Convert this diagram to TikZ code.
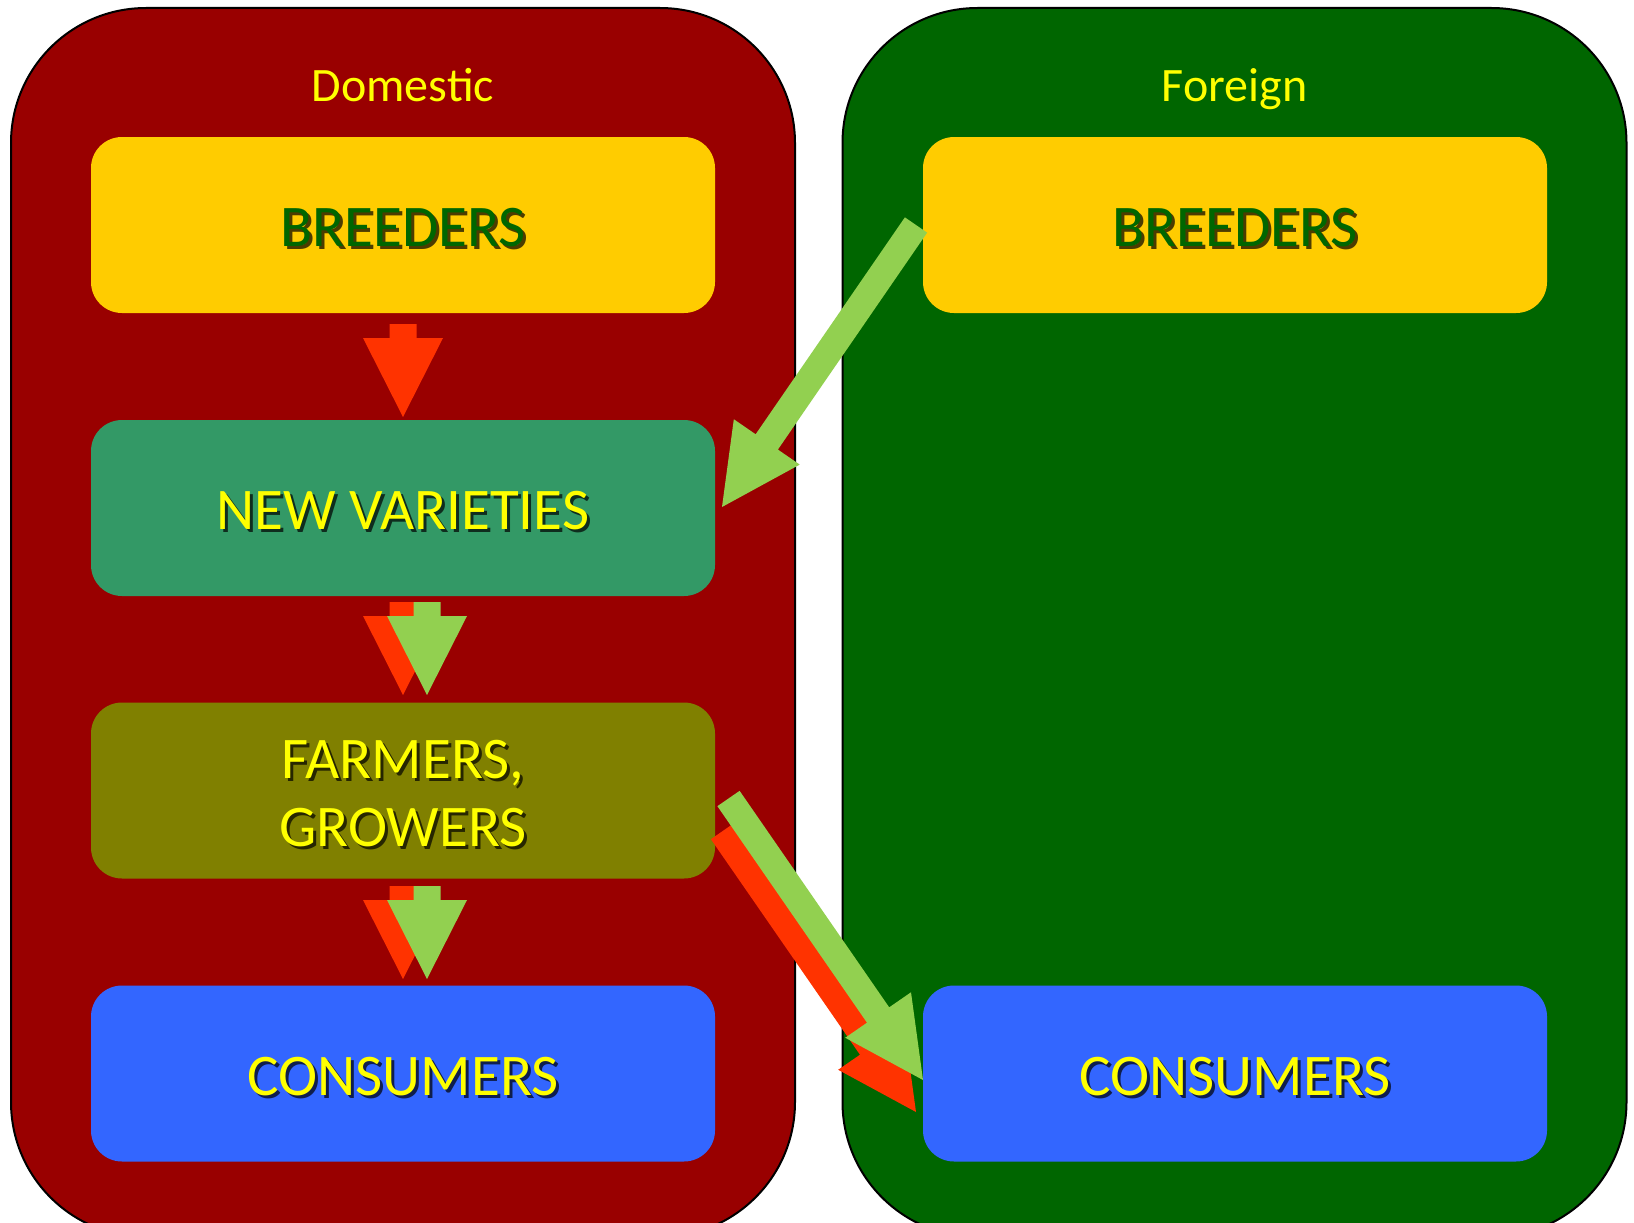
\documentclass[tikz,border=0pt]{standalone}
\usepackage{fontspec}
\setmainfont{Carlito}
\usetikzlibrary{calc}
\definecolor{panelred}{HTML}{990000}
\definecolor{panelgreen}{HTML}{006600}
\definecolor{boxyellow}{HTML}{FFCC00}
\definecolor{boxteal}{HTML}{339966}
\definecolor{boxolive}{HTML}{808000}
\definecolor{boxblue}{HTML}{3366FF}
\definecolor{arrred}{HTML}{FF3300}
\definecolor{arrgreen}{HTML}{92D050}
\definecolor{txtyellow}{HTML}{FFFF00}
\definecolor{txtgreen}{HTML}{006600}
\newcommand\blockarrow[3]{%
  \coordinate (hb) at ($(#3)!79pt!(#2)$);
  \fill[#1] ($(#2)!13.5pt!90:(#3)$) -- ($(hb)!13.5pt!90:(#3)$) -- ($(hb)!40pt!90:(#3)$)
    -- (#3) -- ($(hb)!40pt!-90:(#3)$) -- ($(hb)!13.5pt!-90:(#3)$) -- ($(#2)!13.5pt!-90:(#3)$) -- cycle;
}
\begin{document}
\begin{tikzpicture}[x=1pt,y=-1pt,
  panel/.style={draw=black, line width=2pt, rounded corners=135pt, minimum width=784pt, minimum height=1229pt, inner sep=0pt},
  box/.style={rounded corners=31pt, minimum width=624pt, minimum height=176pt, inner sep=0pt},
  boxtext/.style={font=\fontsize{59}{68}\selectfont, align=center, inner sep=0pt},
  shadowtext/.style={boxtext, text=black, text opacity=0.7},
  title/.style={font=\fontsize{48}{50}\selectfont, text=txtyellow, inner sep=0pt}]
\useasboundingbox (0,0) rectangle (1634,1223);
% panels
\node[panel, fill=panelred] (dom) at (403,622.5) {};
\node[panel, fill=panelgreen] (for) at (1234.5,622.5) {};
\node[title, anchor=base] (domt) at (403,102) {Domestic};
\node[title, anchor=base] (fort) at (1234.5,102) {Foreign};
% boxes
\node[box, fill=boxyellow] (dbreed) at (403,225) {};
\node[box, fill=boxteal] (dnew) at (403,508) {};
\node[box, fill=boxolive] (dfarm) at (403,790.5) {};
\node[box, fill=boxblue] (dcons) at (403,1073.5) {};
\node[box, fill=boxyellow] (fbreed) at (1235,225) {};
\node[box, fill=boxblue] (fcons) at (1235,1073.5) {};
% texts
\node[shadowtext] (s1) at ([shift={(3,6)}]dbreed.center) {BREEDERS};
\node[boxtext, text=txtgreen] (t1) at ([shift={(0,3)}]dbreed.center) {BREEDERS};
\node[shadowtext] (s2) at ([shift={(3,6)}]dnew.center) {NEW VARIETIES};
\node[boxtext, text=txtyellow] (t2) at ([shift={(0,3)}]dnew.center) {NEW VARIETIES};
\node[shadowtext] (s3) at ([shift={(3,6)}]dfarm.center) {FARMERS,\\GROWERS};
\node[boxtext, text=txtyellow] (t3) at ([shift={(0,3)}]dfarm.center) {FARMERS,\\GROWERS};
\node[shadowtext] (s4) at ([shift={(3,6)}]dcons.center) {CONSUMERS};
\node[boxtext, text=txtyellow] (t4) at ([shift={(0,3)}]dcons.center) {CONSUMERS};
\node[shadowtext] (s5) at ([shift={(3,6)}]fbreed.center) {BREEDERS};
\node[boxtext, text=txtgreen] (t5) at ([shift={(0,3)}]fbreed.center) {BREEDERS};
\node[shadowtext] (s6) at ([shift={(3,6)}]fcons.center) {CONSUMERS};
\node[boxtext, text=txtyellow] (t6) at ([shift={(0,3)}]fcons.center) {CONSUMERS};
% arrow end points
\coordinate (a1s) at (403,324);   \coordinate (a1e) at (403,417);
\coordinate (a2rs) at (403,602);  \coordinate (a2re) at (403,695);
\coordinate (a2gs) at (427,602);  \coordinate (a2ge) at (427,695);
\coordinate (a3rs) at (403,886);  \coordinate (a3re) at (403,979);
\coordinate (a3gs) at (427,886);  \coordinate (a3ge) at (427,979);
\coordinate (dgs) at (916,225);   \coordinate (dge) at (722,507);
\coordinate (lrs) at (722,831.5); \coordinate (lre) at (916,1112);
\coordinate (lgs) at (728.5,798.5); \coordinate (lge) at (923,1080);
% arrows
\blockarrow{arrred}{a1s}{a1e}
\blockarrow{arrred}{a2rs}{a2re}
\blockarrow{arrgreen}{a2gs}{a2ge}
\blockarrow{arrred}{a3rs}{a3re}
\blockarrow{arrgreen}{a3gs}{a3ge}
\blockarrow{arrgreen}{dgs}{dge}
\blockarrow{arrred}{lrs}{lre}
\blockarrow{arrgreen}{lgs}{lge}
\end{tikzpicture}
\end{document}
